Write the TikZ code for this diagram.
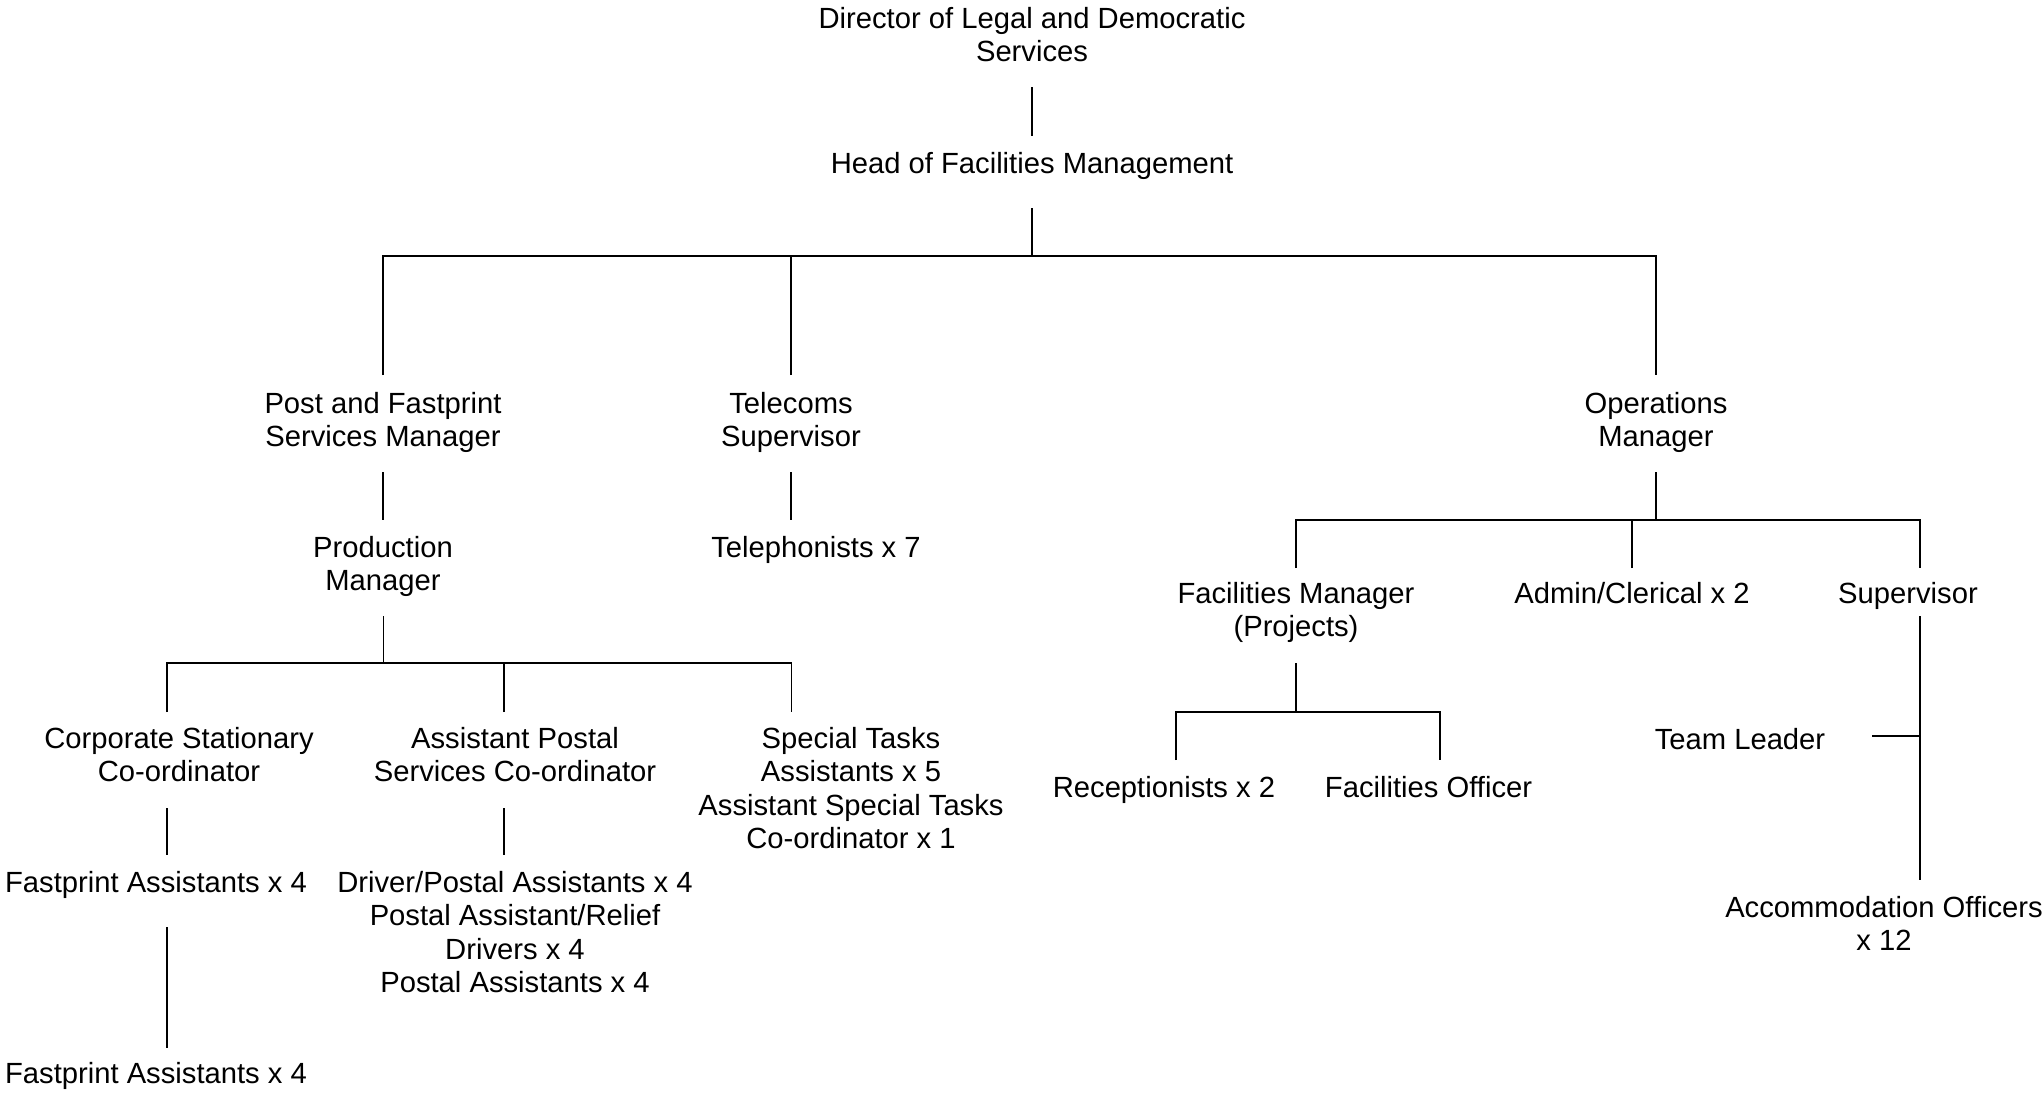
\documentclass[tikz,border=0pt]{standalone}
\usepackage{fontspec}
\setmainfont{Liberation Sans}
\begin{document}
\begin{tikzpicture}[x=0.5pt,y=-0.5pt,
  lbl/.style={font=\fontsize{14.6pt}{16.7pt}\selectfont, align=center, inner sep=0pt, anchor=north},
  link/.style={draw=black, line width=0.8pt}]
\useasboundingbox (0,0) rectangle (2044,1092);

% ---- post holders (north = first baseline - strut height) ----
\node[lbl] (dir)   at (1032,4.6)    {\strut Director of Legal and Democratic\\Services};
\node[lbl] (head)  at (1032,149.6)  {\strut Head of Facilities Management};
\node[lbl] (post)  at (383,389.6)   {\strut Post and Fastprint\\Services Manager};
\node[lbl] (tel)   at (791,389.6)   {\strut Telecoms\\Supervisor};
\node[lbl] (ops)   at (1656,389.6)  {\strut Operations\\Manager};
\node[lbl] (prod)  at (383,533.6)   {\strut Production\\Manager};
\node[lbl] (phon)  at (816,533.6)   {\strut Telephonists x 7};
\node[lbl] (fm)    at (1296,579.6)  {\strut Facilities Manager\\(Projects)};
\node[lbl] (admin) at (1632,579.6)  {\strut Admin/Clerical x 2};
\node[lbl] (sup)   at (1908,579.6)  {\strut Supervisor};
\node[lbl] (corp)  at (179,724.6)   {\strut Corporate Stationary\\Co-ordinator};
\node[lbl] (apsc)  at (515,724.6)   {\strut Assistant Postal\\Services Co-ordinator};
\node[lbl] (spec)  at (851,724.6)   {\strut Special Tasks\\Assistants x 5\\Assistant Special Tasks\\Co-ordinator x 1};
\node[lbl] (tl)    at (1740,725.6)  {\strut Team Leader};
\node[lbl] (rec)   at (1164,773.6)  {\strut Receptionists x 2};
\node[lbl] (fo)    at (1428.5,773.6){\strut Facilities Officer};
\node[lbl] (fast1) at (156,868.6)   {\strut Fastprint Assistants x 4};
\node[lbl] (drv)   at (515,868.6)   {\strut Driver/Postal Assistants x 4\\Postal Assistant/Relief\\Drivers x 4\\Postal Assistants x 4};
\node[lbl] (acc)   at (1884,893.6)  {\strut Accommodation Officers\\x 12};
\node[lbl] (fast2) at (156,1059.6)  {\strut Fastprint Assistants x 4};

% ---- connector end points ----
\coordinate (dir-s)   at (1032,87);
\coordinate (head-n)  at (1032,136);
\coordinate (head-s)  at (1032,208);
\coordinate (bar1)    at (1032,256);
\coordinate (post-n)  at (383,375);
\coordinate (tel-n)   at (791,375);
\coordinate (ops-n)   at (1656,375);
\coordinate (post-s)  at (383,472);
\coordinate (prod-n)  at (383,520);
\coordinate (tel-s)   at (791,472);
\coordinate (phon-n)  at (791,520);
\coordinate (ops-s)   at (1656,472);
\coordinate (bar2)    at (1656,520);
\coordinate (fm-n)    at (1296,568);
\coordinate (admin-n) at (1632,568);
\coordinate (sup-n)   at (1920,568);
\coordinate (prod-s)  at (383.6,616);
\coordinate (bar3)    at (383.6,663);
\coordinate (corp-n)  at (167,712);
\coordinate (apsc-n)  at (503.7,712);
\coordinate (spec-n)  at (791.6,712);
\coordinate (corp-s)  at (167,808);
\coordinate (fast1-n) at (167,855);
\coordinate (fast1-s) at (167,927);
\coordinate (fast2-n) at (167,1048);
\coordinate (apsc-s)  at (503.7,808);
\coordinate (drv-n)   at (503.7,855);
\coordinate (fm-s)    at (1296,663);
\coordinate (bar4)    at (1296,712);
\coordinate (rec-n)   at (1175.7,760);
\coordinate (fo-n)    at (1440,760);
\coordinate (sup-s)   at (1920,616);
\coordinate (acc-n)   at (1920,880);
\coordinate (tl-e)    at (1872,736);

% ---- connectors ----
\draw[link] (dir-s) -- (head-n);
\draw[link] (head-s) -- (bar1);
\draw[link] (post-n) |- (ops-n |- bar1) -- (ops-n);
\draw[link] (tel-n) -- (tel-n |- bar1);

\draw[link] (post-s) -- (prod-n);
\draw[link] (tel-s) -- (phon-n);

\draw[link] (ops-s) -- (bar2);
\draw[link] (fm-n) |- (sup-n |- bar2) -- (sup-n);
\draw[link] (admin-n) -- (admin-n |- bar2);

\draw[link] (prod-s) -- (bar3);
\draw[link] (corp-n) |- (spec-n |- bar3) -- (spec-n);
\draw[link] (apsc-n) -- (apsc-n |- bar3);

\draw[link] (corp-s) -- (fast1-n);
\draw[link] (fast1-s) -- (fast2-n);
\draw[link] (apsc-s) -- (drv-n);

\draw[link] (fm-s) -- (bar4);
\draw[link] (rec-n) |- (fo-n |- bar4) -- (fo-n);

\draw[link] (sup-s) -- (acc-n);
\draw[link] (tl-e) -- (sup-s |- tl-e);
\end{tikzpicture}
\end{document}
